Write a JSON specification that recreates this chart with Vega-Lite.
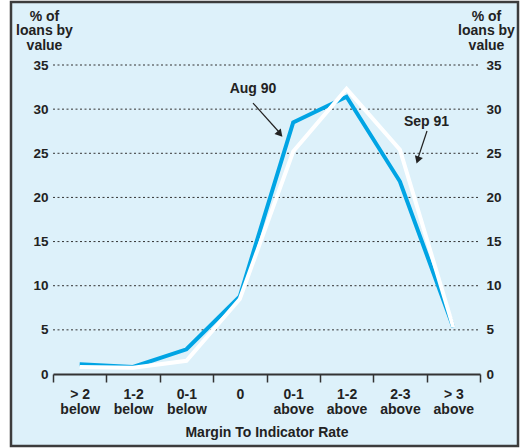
{
  "$schema": "https://vega.github.io/schema/vega-lite/v6.json",
  "width": 427,
  "height": 309,
  "autosize": "none",
  "padding": {"left": 53, "top": 65, "right": 40, "bottom": 74},
  "background": "#ffffff",
  "config": {"view": {"stroke": null}, "font": "Liberation Sans"},
  "datasets": {
    "loans": [
      {"category": "> 2 below", "i": 0, "series": "Aug 90", "value": 1.1},
      {"category": "1-2 below", "i": 1, "series": "Aug 90", "value": 0.8},
      {"category": "0-1 below", "i": 2, "series": "Aug 90", "value": 2.8},
      {"category": "0", "i": 3, "series": "Aug 90", "value": 8.8},
      {"category": "0-1 above", "i": 4, "series": "Aug 90", "value": 28.5},
      {"category": "1-2 above", "i": 5, "series": "Aug 90", "value": 31.4},
      {"category": "2-3 above", "i": 6, "series": "Aug 90", "value": 21.8},
      {"category": "> 3 above", "i": 7, "series": "Aug 90", "value": 5.3},
      {"category": "> 2 below", "i": 0, "series": "Sep 91", "value": 0.8},
      {"category": "1-2 below", "i": 1, "series": "Sep 91", "value": 0.7},
      {"category": "0-1 below", "i": 2, "series": "Sep 91", "value": 1.5},
      {"category": "0", "i": 3, "series": "Sep 91", "value": 8.5},
      {"category": "0-1 above", "i": 4, "series": "Sep 91", "value": 25.2},
      {"category": "1-2 above", "i": 5, "series": "Sep 91", "value": 32.3},
      {"category": "2-3 above", "i": 6, "series": "Sep 91", "value": 25.4},
      {"category": "> 3 above", "i": 7, "series": "Sep 91", "value": 5.3}
    ],
    "grid": [{"g": 5}, {"g": 10}, {"g": 15}, {"g": 20}, {"g": 25}, {"g": 30}, {"g": 35}]
  },
  "resolve": {"axis": {"x": "independent", "y": "independent"}},
  "layer": [
    {
      "data": {"values": [{}]},
      "mark": {"type": "rect", "fill": "#ddf1fa", "stroke": "#3c3c3c", "strokeWidth": 2.5},
      "encoding": {
        "x": {"datum": -1.287, "type": "quantitative", "scale": {"domain": [-0.5, 7.5], "nice": false, "zero": false}, "axis": null},
        "x2": {"datum": 8.212},
        "y": {"datum": 42.13, "type": "quantitative", "scale": {"domain": [0, 35], "nice": false, "zero": false}, "axis": null},
        "y2": {"datum": -8.155}
      }
    },
    {
      "data": {"name": "grid"},
      "mark": {"type": "rule", "color": "#333333", "strokeWidth": 1, "strokeDash": [2, 2.5]},
      "encoding": {
        "x": {"datum": -0.5, "type": "quantitative", "scale": {"domain": [-0.5, 7.5], "nice": false, "zero": false}, "axis": null},
        "x2": {"datum": 7.5},
        "y": {
          "field": "g", "type": "quantitative",
          "scale": {"domain": [0, 35], "nice": false, "zero": false},
          "axis": {
            "orient": "right", "values": [0, 5, 10, 15, 20, 25, 30, 35], "zindex": 1,
            "domain": false, "ticks": false, "grid": false,
            "labelFontSize": 13.5, "labelFontWeight": "bold", "labelColor": "#222222", "labelPadding": 6,
            "title": ["% of", "loans by", "value"],
            "titleAngle": 0, "titleAlign": "center", "titleBaseline": "alphabetic",
            "titleX": 6, "titleY": -45, "titleLineHeight": 14.5,
            "titleFontSize": 14, "titleFontWeight": "bold", "titleColor": "#222222"
          }
        }
      }
    },
    {
      "data": {"name": "loans"},
      "mark": {"type": "line", "strokeWidth": 4, "strokeJoin": "miter"},
      "encoding": {
        "x": {
          "field": "i", "type": "quantitative",
          "scale": {"domain": [-0.5, 7.5], "nice": false, "zero": false},
          "axis": {
            "values": [-0.5, 0, 0.5, 1, 1.5, 2, 2.5, 3, 3.5, 4, 4.5, 5, 5.5, 6, 6.5, 7, 7.5], "zindex": 1,
            "grid": false, "domainColor": "#333333", "domainWidth": 2,
            "tickColor": "#333333", "tickWidth": 1.5, "tickSize": 8,
            "tickOpacity": {"condition": {"test": "datum.value % 1 === 0", "value": 0}, "value": 1},
            "labelExpr": "datum.value === 0 ? ['> 2','below'] : datum.value === 1 ? ['1-2','below'] : datum.value === 2 ? ['0-1','below'] : datum.value === 3 ? '0' : datum.value === 4 ? ['0-1','above'] : datum.value === 5 ? ['1-2','above'] : datum.value === 6 ? ['2-3','above'] : datum.value === 7 ? ['> 3','above'] : ''",
            "labelOverlap": false, "labelFlush": false, "labelBound": false,
            "labelFontSize": 14, "labelFontWeight": "bold", "labelColor": "#222222",
            "labelLineHeight": 15, "labelPadding": 5, "labelBaseline": "top",
            "title": "Margin To Indicator Rate",
            "titleFontSize": 14, "titleFontWeight": "bold", "titleColor": "#222222",
            "titleBaseline": "alphabetic", "titleY": 62
          }
        },
        "y": {
          "field": "value", "type": "quantitative",
          "scale": {"domain": [0, 35], "nice": false, "zero": false},
          "axis": {
            "orient": "left", "values": [0, 5, 10, 15, 20, 25, 30, 35], "zindex": 1,
            "domain": false, "ticks": false, "grid": false,
            "labelFontSize": 13.5, "labelFontWeight": "bold", "labelColor": "#222222", "labelPadding": 5,
            "title": ["% of", "loans by", "value"],
            "titleAngle": 0, "titleAlign": "center", "titleBaseline": "alphabetic",
            "titleX": -9, "titleY": -45, "titleLineHeight": 14.5,
            "titleFontSize": 14, "titleFontWeight": "bold", "titleColor": "#222222"
          }
        },
        "color": {
          "field": "series", "type": "nominal",
          "scale": {"domain": ["Aug 90", "Sep 91"], "range": ["#00a4e4", "#ffffff"]},
          "legend": null
        },
        "order": {"field": "i", "type": "quantitative"}
      }
    },
    {
      "data": {"values": [{}]},
      "mark": {"type": "text", "text": "Aug 90", "fontSize": 14, "fontWeight": "bold", "color": "#222222", "align": "center", "baseline": "alphabetic"},
      "encoding": {
        "x": {"datum": 3.247, "type": "quantitative", "scale": {"domain": [-0.5, 7.5], "nice": false, "zero": false}, "axis": null},
        "y": {"datum": 31.83, "type": "quantitative", "scale": {"domain": [0, 35], "nice": false, "zero": false}, "axis": null}
      }
    },
    {
      "data": {"values": [{}]},
      "mark": {"type": "rule", "color": "#222222", "strokeWidth": 1.2},
      "encoding": {
        "x": {"datum": 3.247, "type": "quantitative", "scale": {"domain": [-0.5, 7.5], "nice": false, "zero": false}, "axis": null},
        "y": {"datum": 30.69, "type": "quantitative", "scale": {"domain": [0, 35], "nice": false, "zero": false}, "axis": null},
        "x2": {"datum": 3.734},
        "y2": {"datum": 27.41}
      }
    },
    {
      "data": {"values": [{}]},
      "mark": {"type": "point", "shape": "triangle-down", "filled": true, "color": "#222222", "size": 70, "angle": -41, "opacity": 1},
      "encoding": {
        "x": {"datum": 3.753, "type": "quantitative", "scale": {"domain": [-0.5, 7.5], "nice": false, "zero": false}, "axis": null},
        "y": {"datum": 27.18, "type": "quantitative", "scale": {"domain": [0, 35], "nice": false, "zero": false}, "axis": null}
      }
    },
    {
      "data": {"values": [{}]},
      "mark": {"type": "text", "text": "Sep 91", "fontSize": 14, "fontWeight": "bold", "color": "#222222", "align": "center", "baseline": "alphabetic"},
      "encoding": {
        "x": {"datum": 6.498, "type": "quantitative", "scale": {"domain": [-0.5, 7.5], "nice": false, "zero": false}, "axis": null},
        "y": {"datum": 28.09, "type": "quantitative", "scale": {"domain": [0, 35], "nice": false, "zero": false}, "axis": null}
      }
    },
    {
      "data": {"values": [{}]},
      "mark": {"type": "rule", "color": "#222222", "strokeWidth": 1.2},
      "encoding": {
        "x": {"datum": 6.507, "type": "quantitative", "scale": {"domain": [-0.5, 7.5], "nice": false, "zero": false}, "axis": null},
        "y": {"datum": 27.52, "type": "quantitative", "scale": {"domain": [0, 35], "nice": false, "zero": false}, "axis": null},
        "x2": {"datum": 6.339},
        "y2": {"datum": 24.46}
      }
    },
    {
      "data": {"values": [{}]},
      "mark": {"type": "point", "shape": "triangle-down", "filled": true, "color": "#222222", "size": 70, "angle": 19, "opacity": 1},
      "encoding": {
        "x": {"datum": 6.333, "type": "quantitative", "scale": {"domain": [-0.5, 7.5], "nice": false, "zero": false}, "axis": null},
        "y": {"datum": 24.24, "type": "quantitative", "scale": {"domain": [0, 35], "nice": false, "zero": false}, "axis": null}
      }
    }
  ]
}
